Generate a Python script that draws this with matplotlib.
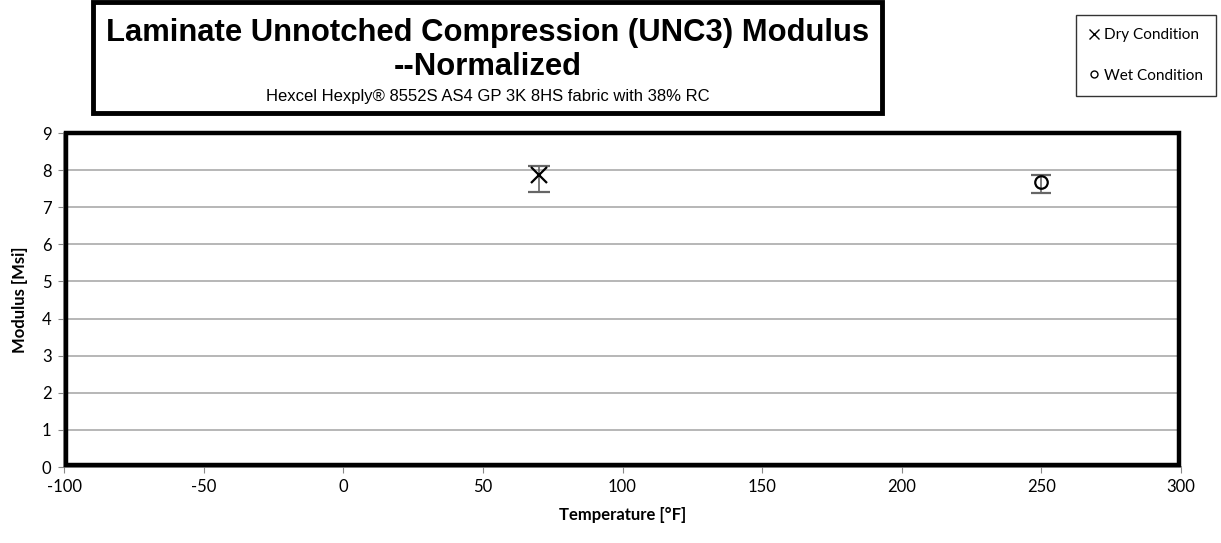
import matplotlib.pyplot as plt
from matplotlib.patches import Rectangle
from matplotlib.lines import Line2D

# test temperature [F], modulus [Msi], error bar extents
dry_temp = [70]
dry_mod = [7.87]
dry_lo = [7.42]
dry_hi = [8.12]

wet_temp = [250]
wet_mod = [7.68]
wet_lo = [7.38]
wet_hi = [7.87]

xticks = [-100, -50, 0, 50, 100, 150, 200, 250, 300]
yticks = list(range(0, 10))

plt.rcParams["font.family"] = ["Lato", "DejaVu Sans"]
plt.rcParams["axes.unicode_minus"] = False
title_font = ["Liberation Sans", "DejaVu Sans"]

fig = plt.figure(figsize=(12.21, 5.43), dpi=100)
ax = fig.add_axes([64 / 1221, 1 - 467 / 543, (1181 - 64) / 1221, (467 - 133) / 543])

ax.set_xlim(-100, 300)
ax.set_ylim(0, 9)
ax.set_xticks(xticks)
ax.set_yticks(yticks)
ax.tick_params(labelsize=12, length=4, color="#888888", direction="out", pad=5)
ax.yaxis.grid(True, color="#aaaaaa", lw=1.2)
ax.set_axisbelow(True)
for s in ax.spines.values():
    s.set_color("#888888")
    s.set_linewidth(1.2)
ax.spines["top"].set_visible(False)
ax.spines["right"].set_visible(False)

# heavy frame round the plot area, slightly inset from the axis lines
ax.add_patch(Rectangle((0.002, 0.006), 0.996, 0.994, transform=ax.transAxes, fill=False,
                       ec="black", lw=3.2, clip_on=False, zorder=5))

def errs(v, lo, hi):
    return [[a - b for a, b in zip(v, lo)], [b - a for a, b in zip(v, hi)]]

ax.errorbar(dry_temp, dry_mod, yerr=errs(dry_mod, dry_lo, dry_hi), fmt="x",
            color="black", ms=12, mew=1.6, ecolor="#666666", elinewidth=1.2,
            capsize=8, capthick=1.2, zorder=6)
ax.errorbar(wet_temp, wet_mod, yerr=errs(wet_mod, wet_lo, wet_hi), fmt="o",
            mfc="none", mec="black", ms=9, mew=1.6, ecolor="#666666",
            elinewidth=1.2, capsize=7, capthick=1.2, zorder=6)

ax.set_xlabel("Temperature [°F]", fontsize=12, fontweight="bold", labelpad=8)
ax.set_ylabel("Modulus [Msi]", fontsize=12, fontweight="bold", labelpad=10)

# title box
fig.patches.append(Rectangle((93 / 1221, 1 - 113 / 543), (882 - 93) / 1221, (113 - 2) / 543,
                             transform=fig.transFigure, fill=False, ec="black", lw=3.5))
fig.text(488 / 1221, 1 - 33 / 543, "Laminate Unnotched Compression (UNC3) Modulus",
         ha="center", va="center", fontsize=22.3, fontweight="bold", family=title_font)
fig.text(488 / 1221, 1 - 67 / 543, "--Normalized", ha="center", va="center",
         fontsize=22.3, fontweight="bold", family=title_font)
fig.text(488 / 1221, 1 - 97 / 543, "Hexcel Hexply® 8552S AS4 GP 3K 8HS fabric with 38% RC",
         ha="center", va="center", fontsize=12, family=title_font)

# legend box
handles = [Line2D([], [], ls="none", marker="x", color="black", ms=7, mew=1.0),
           Line2D([], [], ls="none", marker="o", mfc="none", mec="black", ms=5, mew=1.0)]
leg = fig.legend(handles, ["Dry Condition", "Wet Condition"],
                 loc="upper right", bbox_to_anchor=(1216 / 1221, 1 - 15 / 543),
                 fontsize=11, frameon=True, fancybox=False, edgecolor="black",
                 handlelength=0.7, handletextpad=0.3, labelspacing=1.75,
                 borderpad=0.85, borderaxespad=0)
leg.get_frame().set_linewidth(1.0)

fig.savefig("out.png", dpi=100)
